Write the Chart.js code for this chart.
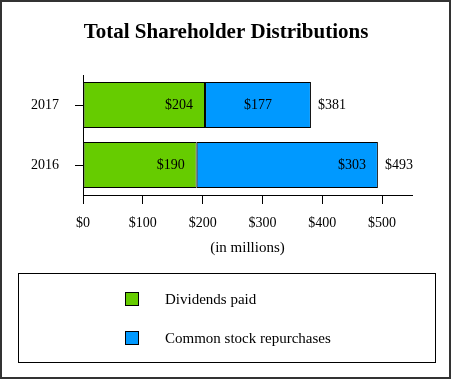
<!DOCTYPE html>
<html>
<head>
<meta charset="utf-8">
<script src="https://cdn.jsdelivr.net/npm/chart.js@4"></script>
<style>
  html, body { margin: 0; padding: 0; background: #fff; }
  #wrap { width: 452px; height: 381px; }
</style>
</head>
<body>
<div id="wrap"><canvas id="chart" width="452" height="381"></canvas></div>
<script>
// chart data
const years = ['2017', '2016'];
const dividends = [204, 190];
const repurchases = [177, 303];
const totals = [381, 493];
const xTicks = [0, 100, 200, 300, 400, 500];

const SERIF = '"Liberation Serif", "Times New Roman", serif';
const GREEN = '#66cc00';
const BLUE = '#0099ff';

// where each value label sits inside its segment [dataset][row]
const labelAlign = [['end', 'end'], ['center', 'end']];

// title, value labels, totals, legend box and frame
const decorations = {
  id: 'decorations',
  afterDatasetsDraw(chart) {
    const ctx = chart.ctx;
    ctx.save();
    ctx.textBaseline = 'middle';
    ctx.fillStyle = '#000';

    // title, centred on the whole canvas
    ctx.font = 'bold 21px ' + SERIF;
    ctx.textAlign = 'center';
    ctx.fillText('Total Shareholder Distributions', 226, 33);

    ctx.font = '14px ' + SERIF;
    chart.data.datasets.forEach((ds, i) => {
      chart.getDatasetMeta(i).data.forEach((bar, j) => {
        const text = '$' + ds.data[j];
        const left = Math.min(bar.base, bar.x);
        const right = Math.max(bar.base, bar.x);
        if (labelAlign[i][j] === 'center') {
          ctx.textAlign = 'center';
          ctx.fillText(text, (left + right) / 2, bar.y);
        } else {
          ctx.textAlign = 'right';
          ctx.fillText(text, right - 12, bar.y);
        }
      });
    });

    // totals to the right of each stack
    const xScale = chart.scales.x;
    const meta = chart.getDatasetMeta(0);
    ctx.textAlign = 'left';
    totals.forEach((t, j) => {
      ctx.fillText('$' + t, xScale.getPixelForValue(t) + 7, meta.data[j].y);
    });

    // legend box
    ctx.font = '15px ' + SERIF;
    ctx.strokeStyle = '#000';
    ctx.lineWidth = 1;
    ctx.strokeRect(18.5, 273.5, 417, 89);
    const rows = [300, 339];
    chart.data.datasets.forEach((ds, i) => {
      ctx.fillStyle = ds.backgroundColor;
      ctx.fillRect(125.5, rows[i] - 7.5, 13, 13);
      ctx.strokeRect(125.5, rows[i] - 7.5, 13, 13);
      ctx.fillStyle = '#000';
      ctx.fillText(ds.label, 165, rows[i]);
    });

    // outer frame
    ctx.strokeStyle = '#333';
    ctx.lineWidth = 2;
    ctx.strokeRect(1, 1, 449, 377);
    ctx.restore();
  }
};

new Chart(document.getElementById('chart'), {
  type: 'bar',
  data: {
    labels: years,
    datasets: [
      {
        label: 'Dividends paid',
        data: dividends,
        backgroundColor: GREEN,
        borderColor: '#000',
        borderWidth: 1,
        borderSkipped: false
      },
      {
        label: 'Common stock repurchases',
        data: repurchases,
        backgroundColor: BLUE,
        borderColor: '#000',
        borderWidth: 1,
        borderSkipped: false
      }
    ]
  },
  options: {
    indexAxis: 'y',
    responsive: false,
    animation: false,
    layout: { padding: { left: 0, right: 40, top: 75, bottom: 124 } },
    categoryPercentage: 1,
    barPercentage: 0.77,
    plugins: {
      legend: { display: false },
      tooltip: { enabled: false },
      title: { display: false }
    },
    scales: {
      x: {
        stacked: true,
        min: 0,
        max: 550,
        afterFit: s => { s.height = 62; },
        afterBuildTicks: s => { s.ticks = xTicks.map(v => ({ value: v })); },
        ticks: {
          color: '#000',
          font: { family: SERIF, size: 14 },
          padding: 11,
          callback: v => '$' + v
        },
        grid: { drawOnChartArea: false, tickLength: 9, color: '#000' },
        border: { color: '#000', width: 1 },
        title: {
          display: true,
          text: '(in millions)',
          color: '#000',
          font: { family: SERIF, size: 15 },
          padding: 0
        }
      },
      y: {
        stacked: true,
        afterFit: s => { s.width = 83; },
        ticks: {
          color: '#000',
          font: { family: SERIF, size: 14 },
          padding: 16
        },
        grid: { offset: false, drawOnChartArea: false, tickLength: 8, color: '#000' },
        border: { color: '#000', width: 1 }
      }
    }
  },
  plugins: [decorations]
});
</script>
</body>
</html>
